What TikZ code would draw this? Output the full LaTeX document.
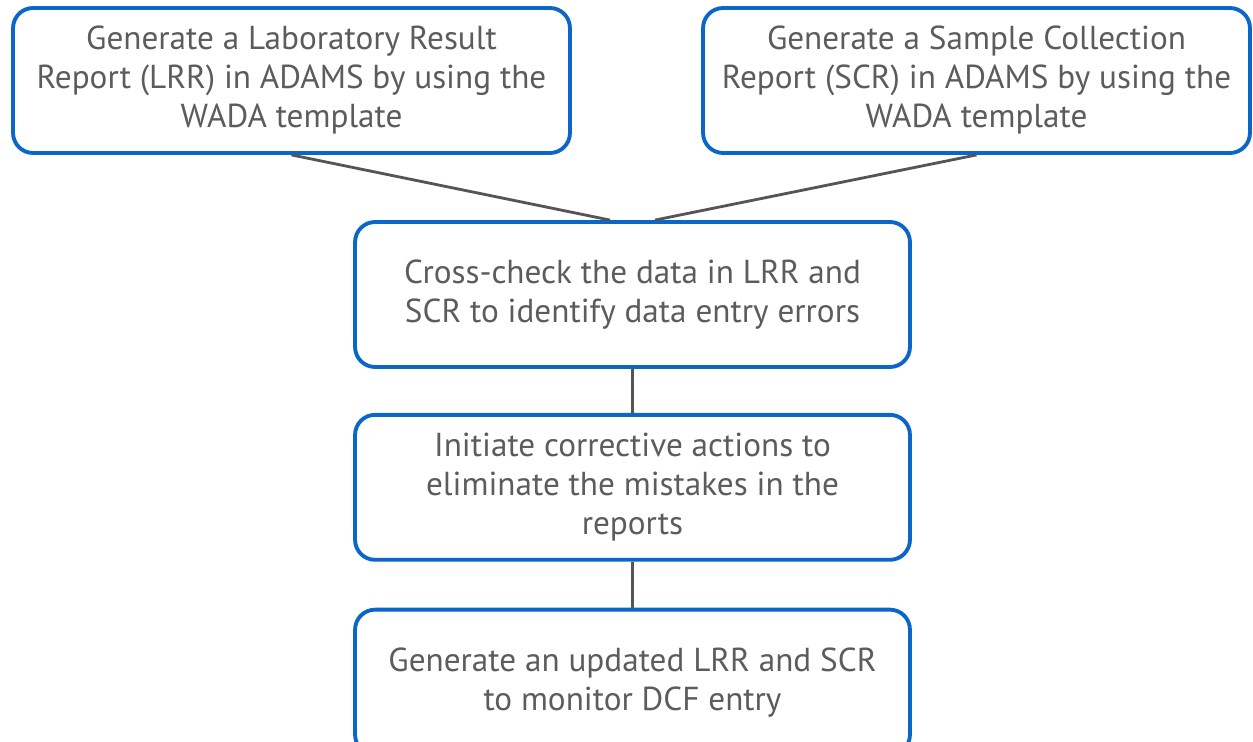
\documentclass[tikz,border=0pt]{standalone}
\usepackage{fontspec}
\setmainfont{PT Sans}
\usetikzlibrary{positioning}
\definecolor{boxblue}{HTML}{0A66C8}
\definecolor{linkgray}{HTML}{555555}
\definecolor{textgray}{HTML}{5C5C5C}
\tikzset{
	stepbox/.style={
			draw=boxblue, line width=2.2pt, rounded corners=0.4cm,
			fill=white, text=textgray, align=center, inner sep=0pt,
			minimum height=2.9cm, font=\fontsize{18.9}{22.2}\selectfont
		},
	link/.style={draw=linkgray, line width=1.6pt}
}

\begin{document}
\begin{tikzpicture}[x=0.02cm, y=-0.02cm]

			\useasboundingbox (0,0) rectangle (1253,742);

			% Draw the two report boxes
			\node[stepbox, minimum width=11.14cm] (lrr) at (291.5,80.5) {Generate a Laboratory Result\\Report (LRR) in ADAMS by using the\\WADA template};
			\node[stepbox, minimum width=10.94cm] (scr) at (976.5,80.5) {Generate a Sample Collection\\Report (SCR) in ADAMS by using the\\WADA template};

			% Draw the chain of steps below
			\node[stepbox, minimum width=11.1cm] (check) at (632.5,294.5) {Cross-check the data in LRR and\\SCR to identify data entry errors};
			\node[stepbox, minimum width=11.1cm, below=0.88cm of check] (fix) {Initiate corrective actions to\\eliminate the mistakes in the\\reports};
			\node[stepbox, minimum width=11.1cm, below=0.92cm of fix] (update) {Generate an updated LRR and SCR\\to monitor DCF entry};

			% Draw the connectors
			\draw[link] (lrr.south) -- ([xshift=-0.45cm]check.north);
			\draw[link] (scr.south) -- ([xshift=0.45cm]check.north);
			\draw[link] (check) -- (fix);
			\draw[link] (fix) -- (update);

		\end{tikzpicture}
\end{document}
